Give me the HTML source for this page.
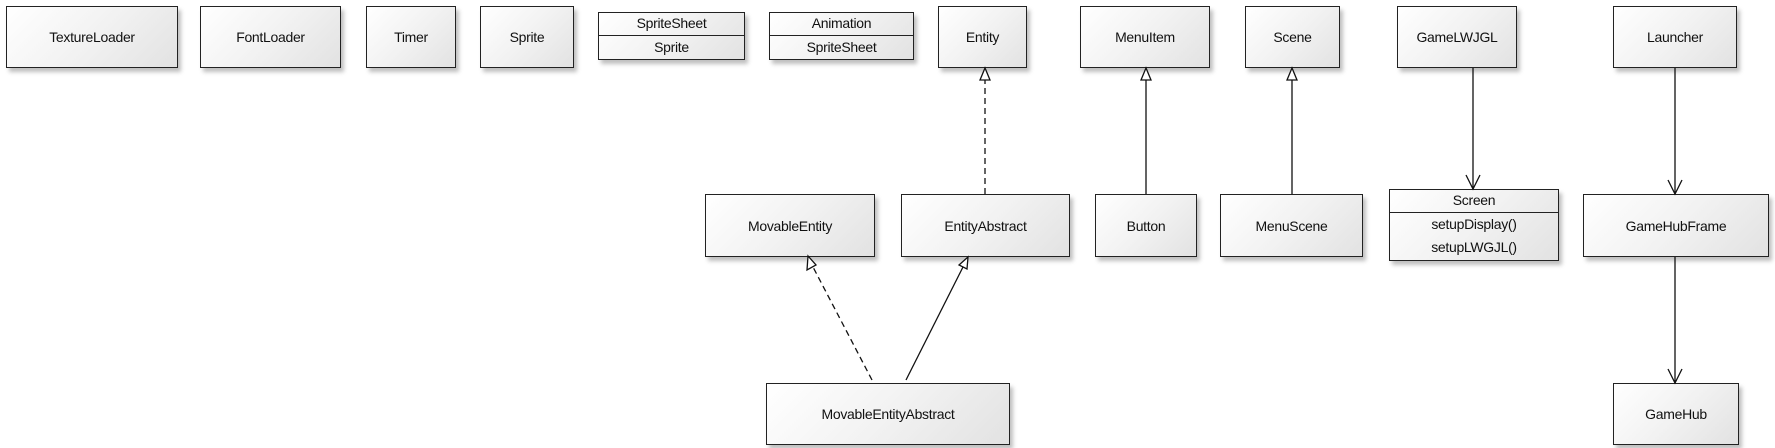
<!DOCTYPE html>
<html><head><style>
body{margin:0;width:1775px;height:448px;background:#fff;position:relative;overflow:hidden;font-family:"Liberation Sans",sans-serif;}
.b{position:absolute;box-sizing:border-box;border:1.5px solid #222;background:linear-gradient(135deg,#fff 0%,#f2f2f2 50%,#e2e2e2 100%);box-shadow:3px 4px 4px rgba(0,0,0,0.25);display:flex;align-items:center;justify-content:center;font-size:14px;color:#111;letter-spacing:-0.3px;}
.c{position:absolute;box-sizing:border-box;border:1.5px solid #222;background:linear-gradient(135deg,#fff 0%,#f2f2f2 50%,#e2e2e2 100%);box-shadow:3px 4px 4px rgba(0,0,0,0.25);font-size:14px;color:#111;text-align:center;letter-spacing:-0.3px;}
.c div{box-sizing:border-box;}
svg{position:absolute;left:0;top:0;}
</style></head><body>
<div class="b" style="left:6px;top:6px;width:172px;height:62px">TextureLoader</div>
<div class="b" style="left:200px;top:6px;width:141px;height:62px">FontLoader</div>
<div class="b" style="left:366px;top:6px;width:90px;height:62px">Timer</div>
<div class="b" style="left:480px;top:6px;width:94px;height:62px">Sprite</div>
<div class="c" style="left:598px;top:12px;width:147px;height:48px"><div style="height:23px;line-height:21px;border-bottom:1.5px solid #222">SpriteSheet</div><div style="line-height:22px">Sprite</div></div>
<div class="c" style="left:769px;top:12px;width:145px;height:48px"><div style="height:23px;line-height:21px;border-bottom:1.5px solid #222">Animation</div><div style="line-height:22px">SpriteSheet</div></div>
<div class="b" style="left:938px;top:6px;width:89px;height:62px">Entity</div>
<div class="b" style="left:1080px;top:6px;width:130px;height:62px">MenuItem</div>
<div class="b" style="left:1245px;top:6px;width:95px;height:62px">Scene</div>
<div class="b" style="left:1397px;top:6px;width:120px;height:62px">GameLWJGL</div>
<div class="b" style="left:1613px;top:6px;width:124px;height:62px">Launcher</div>
<div class="b" style="left:705px;top:194px;width:170px;height:63px">MovableEntity</div>
<div class="b" style="left:901px;top:194px;width:169px;height:63px">EntityAbstract</div>
<div class="b" style="left:1095px;top:194px;width:102px;height:63px">Button</div>
<div class="b" style="left:1220px;top:194px;width:143px;height:63px">MenuScene</div>
<div class="c" style="left:1389px;top:189px;width:170px;height:72px"><div style="height:23px;line-height:21px;border-bottom:1.5px solid #222">Screen</div><div style="line-height:23px">setupDisplay()<br>setupLWGJL()</div></div>
<div class="b" style="left:1583px;top:194px;width:186px;height:63px">GameHubFrame</div>
<div class="b" style="left:766px;top:383px;width:244px;height:62px">MovableEntityAbstract</div>
<div class="b" style="left:1613px;top:383px;width:126px;height:62px">GameHub</div>
<svg width="1775" height="448" stroke="#111" stroke-width="1.3" fill="none">
<line x1="985" y1="194" x2="985" y2="80" stroke-dasharray="6,4"/>
<polygon points="985,68 980,80 990,80" fill="#fff"/>
<line x1="1146" y1="194" x2="1146" y2="80"/>
<polygon points="1146,68 1141,80 1151,80" fill="#fff"/>
<line x1="1292" y1="194" x2="1292" y2="80"/>
<polygon points="1292,68 1287,80 1297,80" fill="#fff"/>
<line x1="1473" y1="68" x2="1473" y2="189"/>
<polyline points="1466,175 1473,189 1480,175"/>
<line x1="1675" y1="68" x2="1675" y2="194"/>
<polyline points="1668,180 1675,194 1682,180"/>
<line x1="1675" y1="257" x2="1675" y2="383"/>
<polyline points="1668,369 1675,383 1682,369"/>
<line x1="872" y1="380" x2="813" y2="267" stroke-dasharray="6,4"/>
<polygon points="808,256 807,270 816,265" fill="#fff"/>
<line x1="906" y1="380" x2="963" y2="267"/>
<polygon points="968,257 959,265 967,269" fill="#fff"/>
</svg>
</body></html>
